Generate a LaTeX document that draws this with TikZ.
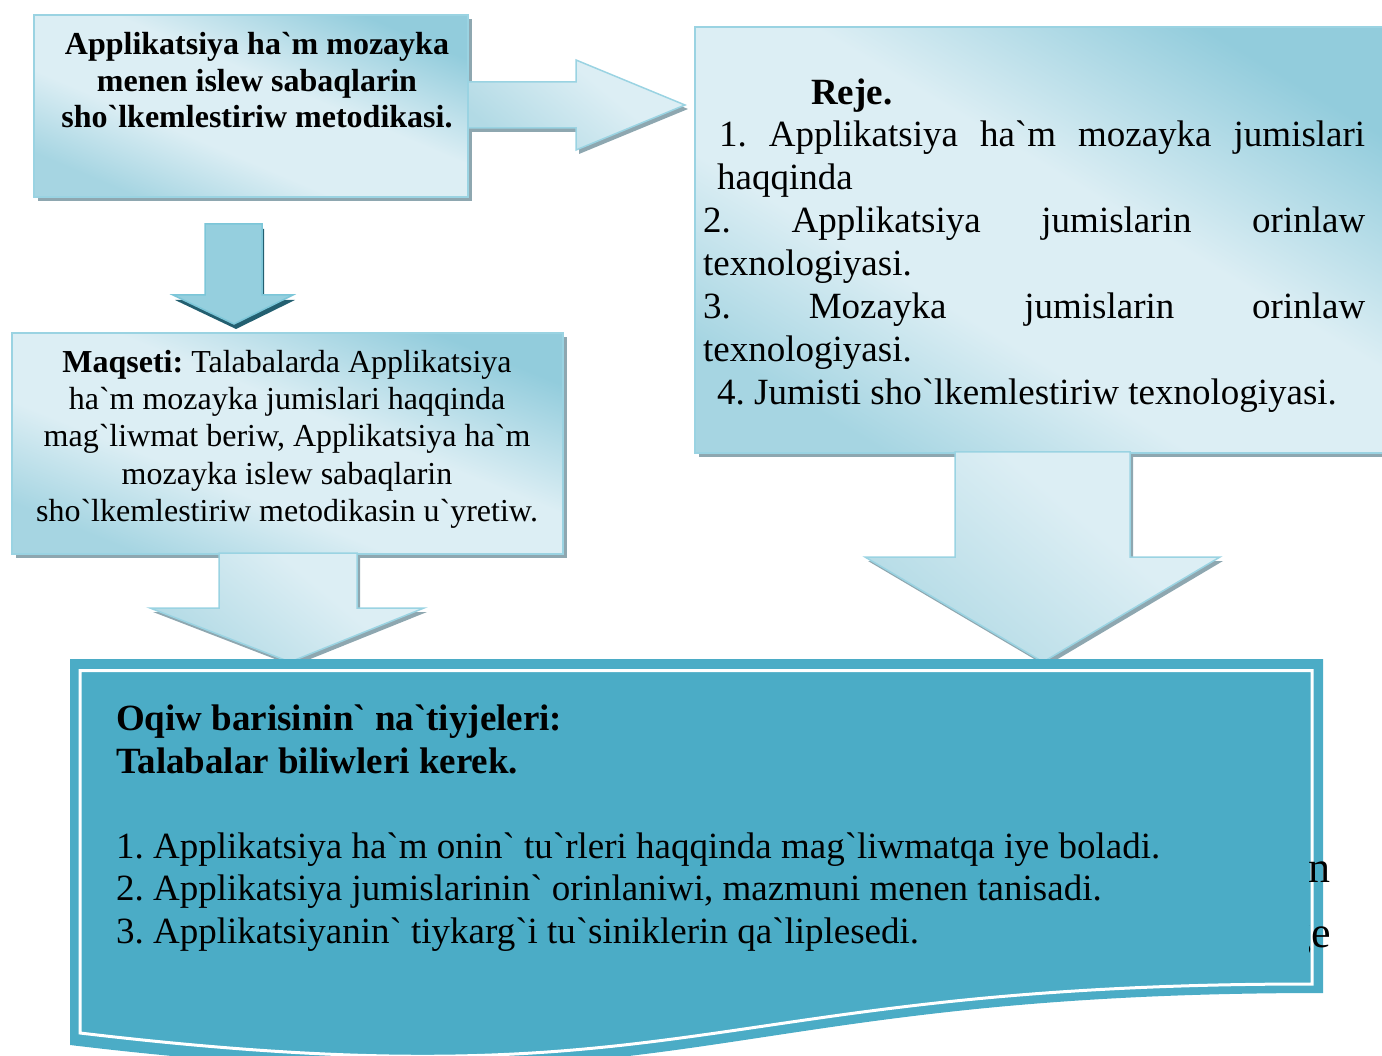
\documentclass[tikz,border=0pt]{standalone}
\usepackage{fontspec}
\setmainfont{Liberation Serif}[Ligatures=TeXOff]
\usetikzlibrary{shadows}
\definecolor{cLight}{HTML}{DCEEF4}
\definecolor{cDark}{HTML}{92CCDC}
\definecolor{cMid}{HTML}{A6D5E2}
\definecolor{cArrowLow}{HTML}{B2DAE5}
\definecolor{cEdge}{HTML}{9AD3E2}
\definecolor{cShadow}{HTML}{8EA7B0}
\definecolor{cTeal}{HTML}{4BACC6}
\definecolor{cDeep}{HTML}{235F70}
\definecolor{cDarkTop}{HTML}{95CFDE}
\definecolor{cDarkEdge}{HTML}{7CC6D8}
\pgfdeclareverticalshading{boxshade}{100bp}{color(0bp)=(cMid); color(25bp)=(cMid); color(40bp)=(cLight); color(56bp)=(cLight); color(75bp)=(cDark); color(100bp)=(cDark)}
\pgfdeclareverticalshading{arrowshade}{100bp}{color(0bp)=(cArrowLow); color(25bp)=(cArrowLow); color(60bp)=(cLight); color(100bp)=(cLight)}
\begin{document}
\frenchspacing
\begin{tikzpicture}[x=1pt,y=-1pt,
  lightshape/.style={draw=cEdge, line width=1.5pt, shade, shading=boxshade, shading angle=#1,
    drop shadow={shadow xshift=4pt, shadow yshift=-4pt, fill=cShadow, opacity=1}},
  lightshape/.default=-25,
  lightarrow/.style={draw=cEdge, line width=1.5pt, shade, shading=arrowshade, shading angle=-40,
    drop shadow={shadow xshift=3pt, shadow yshift=-4pt, fill=cShadow, opacity=1}},
  darkarrow/.style={draw=cDarkEdge, line width=1.5pt, top color=cDarkTop, middle color=cTeal, bottom color=cDarkTop,
    drop shadow={shadow xshift=2pt, shadow yshift=-5pt, fill=cDeep, opacity=1}},
  boxnode/.style={inner sep=0pt, outer sep=0pt},
  bt/.style={inner sep=0pt, font=\fontsize{32}{37}\selectfont\bfseries},
  rt/.style={inner sep=0pt, font=\fontsize{32}{37}\selectfont},
  big/.style={inner sep=0pt, font=\fontsize{37}{42}\selectfont},
  bigb/.style={inner sep=0pt, font=\fontsize{37}{42}\selectfont\bfseries},
  stray/.style={inner sep=0pt, font=\fontsize{44}{44}\selectfont}
]
\useasboundingbox (0,0) rectangle (1382,1056);
\clip (0,0) rectangle (1382,1056);

% Reje box (extends past right edge)
\node[lightshape=-31, boxnode, minimum width=700pt, minimum height=426pt] (reje) at (1045,240) {};
% title box
\node[lightshape=-23, boxnode, minimum width=434pt, minimum height=182pt] (title) at (251,106) {};
% arrow title -> reje
\path[lightarrow] (title.east |- 0,82) -- (576,82) -- (576,60) -- (685,105) -- (576,150) -- (576,128) -- (title.east |- 0,128) -- cycle;
% small dark arrow title -> goal
\path[darkarrow] (205,224) -- (262,224) -- (262,295) -- (293,295) -- (234,324) -- (173,295) -- (205,295) -- cycle;
% goal box
\node[lightshape=-22, boxnode, minimum width=551pt, minimum height=221pt] (goal) at (287.5,443.5) {};
% arrow goal -> results
\path[lightarrow] (219,553) -- (357,553) -- (357,608) -- (424,608) -- (290,662) -- (150,608) -- (219,608) -- cycle;
% arrow reje -> results
\path[lightarrow] (955,452) -- (1130,452) -- (1130,557) -- (1220,557) -- (1043,662) -- (865,557) -- (955,557) -- cycle;

% results box
\fill[cTeal] (70,659) -- (1323,659) -- (1323,993) .. controls (696,993) and (696,1120) .. (70,1045) -- cycle;
\draw[white, line width=3pt, fill=cTeal] (80,670.5) -- (1312,670.5) -- (1312,984) .. controls (696,984) and (696,1106) .. (80,1033) -- cycle;
\coordinate (results) at (696,820);

% texts of title box
\node[bt, anchor=base] (t1) at (257,55) {Applikatsiya ha`m mozayka};
\node[bt, anchor=base] (t2) at (257,91.5) {menen islew sabaqlarin};
\node[bt, anchor=base] (t3) at (257,128) {sho`lkemlestiriw metodikasi.};

% texts of goal box
\node[rt, anchor=base] (g1) at (287,373) {\textbf{Maqseti:} Talabalarda Applikatsiya};
\node[rt, anchor=base] (g2) at (287,410) {ha`m mozayka jumislari haqqinda};
\node[rt, anchor=base] (g3) at (287,447) {mag`liwmat beriw, Applikatsiya ha`m};
\node[rt, anchor=base] (g4) at (287,484.5) {mozayka islew sabaqlarin};
\node[rt, anchor=base] (g5) at (287,521.5) {sho`lkemlestiriw metodikasin u`yretiw.};

% texts of reje box
\node[bigb, anchor=base west] (r0) at (811,105) {Reje.};
\node[big, anchor=base west] (r1) at (719,147) {\makebox[646pt][s]{1. Applikatsiya ha`m mozayka jumislari}};
\node[big, anchor=base west] (r2) at (717,190) {haqqinda};
\node[big, anchor=base west] (r3) at (703,233) {\makebox[662pt][s]{2. Applikatsiya jumislarin orinlaw}};
\node[big, anchor=base west] (r4) at (703,276) {texnologiyasi.};
\node[big, anchor=base west] (r5) at (703,318.5) {\makebox[662pt][s]{3. Mozayka jumislarin orinlaw}};
\node[big, anchor=base west] (r6) at (703,361.5) {texnologiyasi.};
\node[big, anchor=base west] (r7) at (717,405) {4. Jumisti sho`lkemlestiriw texnologiyasi.};

% texts of results box
\node[bigb, anchor=base west] (o1) at (116,730) {Oqiw barisinin` na`tiyjeleri:};
\node[bigb, anchor=base west] (o2) at (116,773) {Talabalar biliwleri kerek.};
\node[big, anchor=base west] (o3) at (116,858) {1. Applikatsiya ha`m onin` tu`rleri haqqinda mag`liwmatqa iye boladi.};
\node[big, anchor=base west] (o4) at (116,900) {2. Applikatsiya jumislarinin` orinlaniwi, mazmuni menen tanisadi.};
\node[big, anchor=base west] (o5) at (116,943) {3. Applikatsiyanin` tiykarg`i tu`siniklerin qa`liplesedi.};

% fragments of text peeking out at the right
\begin{scope}
\clip (1309,830) rectangle (1382,980);
\node[stray, anchor=base east] (s1) at (1331,882) {n};
\node[stray, anchor=base east] (s2) at (1331,947) {ge};
\end{scope}
\end{tikzpicture}
\end{document}
